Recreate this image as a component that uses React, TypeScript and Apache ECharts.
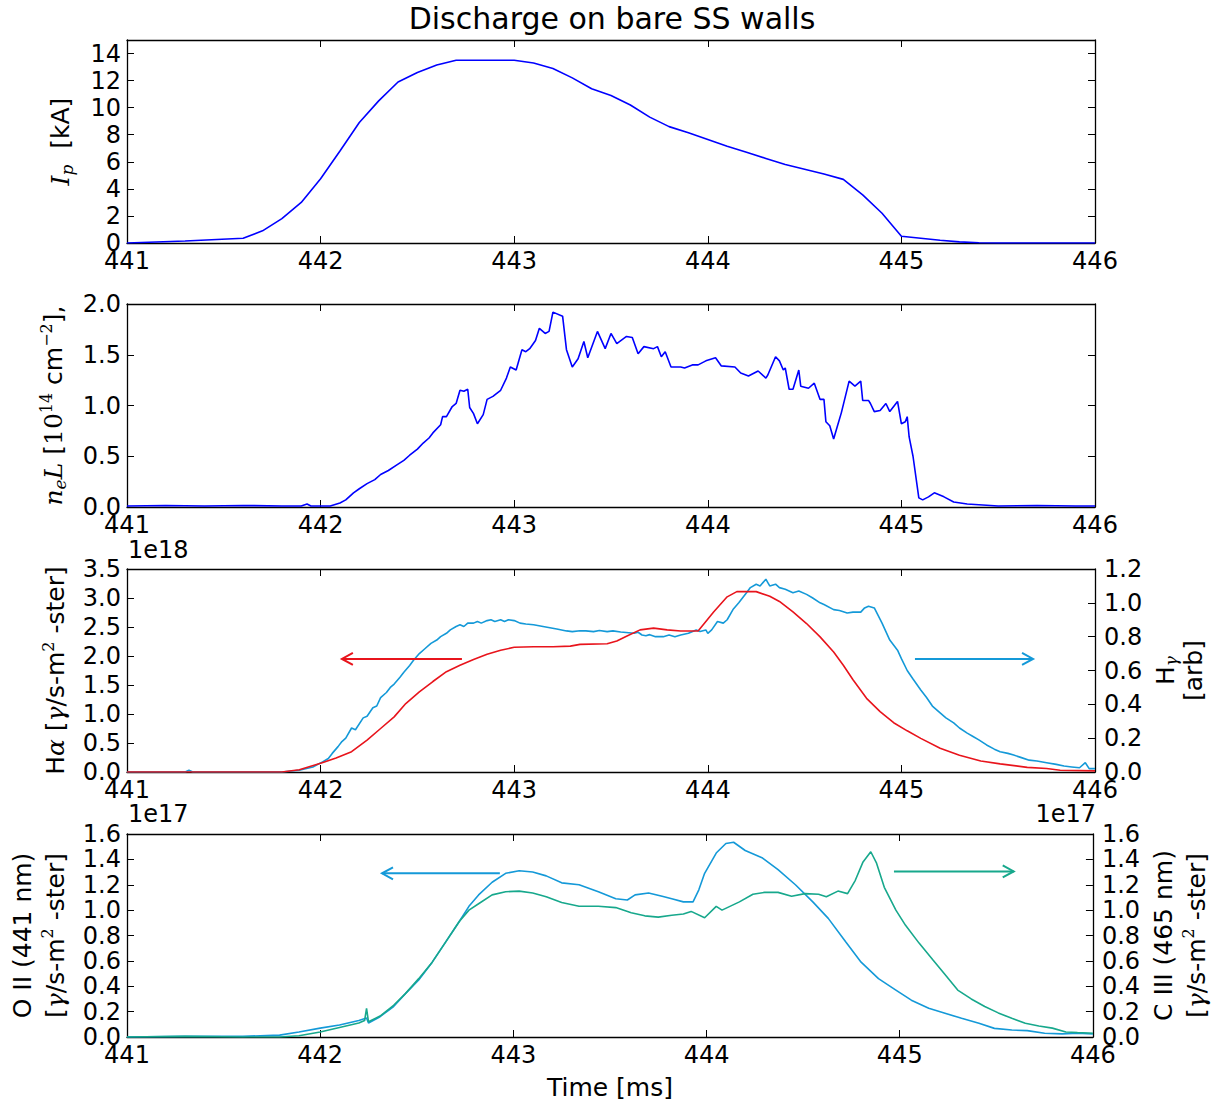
import React, { useEffect, useRef } from "react";
import * as echarts from "echarts";

// ---------- data (time in ms, values in plotted units) ----------
const xTicks = [441, 442, 443, 444, 445, 446];

const ipData: number[][] = [
  [441, 0], [441.3, 0.15], [441.6, 0.35], [441.7, 0.9], [441.8, 1.8], [441.9, 3.0], [442.0, 4.75],
  [442.1, 6.8], [442.2, 8.9], [442.3, 10.5], [442.4, 11.9], [442.5, 12.6], [442.6, 13.15], [442.7, 13.5],
  [443.0, 13.5], [443.1, 13.3], [443.2, 12.9], [443.3, 12.2], [443.4, 11.4], [443.5, 10.9], [443.6, 10.2],
  [443.7, 9.3], [443.8, 8.6], [443.9, 8.15], [444.0, 7.65], [444.1, 7.15], [444.2, 6.7], [444.3, 6.25],
  [444.4, 5.8], [444.5, 5.45], [444.6, 5.1], [444.7, 4.7], [444.8, 3.55], [444.9, 2.2], [445.0, 0.5],
  [445.1, 0.35], [445.2, 0.2], [445.3, 0.08], [445.4, 0.02], [445.5, 0], [446, 0],
];

const neLData: number[][] = [
  [441, 0.01], [441.2, 0.015], [441.4, 0.01], [441.6, 0.015], [441.8, 0.01], [441.9, 0.01], [441.93, 0.03],
  [441.95, 0.01], [442.05, 0.01], [442.1, 0.04], [442.13, 0.07], [442.17, 0.14], [442.2, 0.18], [442.24, 0.23],
  [442.28, 0.27], [442.31, 0.32], [442.35, 0.36], [442.39, 0.41], [442.43, 0.46], [442.46, 0.51], [442.5, 0.57],
  [442.53, 0.63], [442.56, 0.68], [442.58, 0.73], [442.62, 0.81], [442.63, 0.89], [442.65, 0.89], [442.68, 0.99],
  [442.7, 1.02], [442.72, 1.15], [442.74, 1.14], [442.76, 1.16], [442.77, 0.98], [442.79, 0.92], [442.81, 0.82],
  [442.84, 0.91], [442.86, 1.06], [442.89, 1.09], [442.93, 1.15], [442.96, 1.27], [442.98, 1.38], [443.01, 1.35],
  [443.04, 1.55], [443.06, 1.53], [443.08, 1.56], [443.11, 1.64], [443.13, 1.76], [443.16, 1.71], [443.18, 1.73],
  [443.2, 1.92], [443.25, 1.88], [443.27, 1.55], [443.3, 1.38], [443.33, 1.46], [443.36, 1.63], [443.38, 1.47],
  [443.43, 1.73], [443.47, 1.56], [443.5, 1.71], [443.53, 1.61], [443.58, 1.68], [443.61, 1.67], [443.64, 1.51],
  [443.67, 1.58], [443.72, 1.56], [443.74, 1.58], [443.76, 1.48], [443.78, 1.53], [443.81, 1.38], [443.86, 1.38],
  [443.88, 1.37], [443.92, 1.4], [443.95, 1.4], [443.99, 1.44], [444.04, 1.47], [444.07, 1.39], [444.14, 1.38],
  [444.17, 1.32], [444.21, 1.29], [444.26, 1.34], [444.3, 1.27], [444.31, 1.3], [444.35, 1.48], [444.37, 1.44],
  [444.39, 1.35], [444.4, 1.37], [444.42, 1.16], [444.44, 1.16], [444.47, 1.35], [444.48, 1.19], [444.52, 1.17],
  [444.55, 1.22], [444.58, 1.06], [444.6, 1.06], [444.61, 0.84], [444.63, 0.8], [444.65, 0.67], [444.67, 0.8],
  [444.69, 0.93], [444.73, 1.24], [444.76, 1.19], [444.79, 1.24], [444.8, 1.05], [444.83, 1.05], [444.84, 1.02],
  [444.86, 0.94], [444.89, 0.95], [444.92, 1.02], [444.94, 0.94], [444.98, 1.04], [445.0, 0.82], [445.02, 0.84],
  [445.03, 0.89], [445.04, 0.69], [445.06, 0.5], [445.09, 0.09], [445.11, 0.07], [445.14, 0.1], [445.17, 0.14],
  [445.22, 0.1], [445.27, 0.05], [445.34, 0.03], [445.5, 0.01], [445.7, 0.015], [445.9, 0.01], [446, 0.01],
];

// H-alpha, units of 1e18
const hAlphaData: number[][] = [
  [441, 0], [441.8, 0], [441.89, 0.04], [442.0, 0.15], [442.08, 0.24], [442.16, 0.35], [442.24, 0.55],
  [442.31, 0.75], [442.38, 0.95], [442.44, 1.18], [442.51, 1.38], [442.58, 1.56], [442.65, 1.73], [442.72, 1.84],
  [442.79, 1.94], [442.86, 2.03], [442.93, 2.1], [443.0, 2.15], [443.1, 2.16], [443.2, 2.16], [443.29, 2.17],
  [443.34, 2.2], [443.48, 2.21], [443.53, 2.26], [443.58, 2.34], [443.65, 2.45], [443.72, 2.48], [443.79, 2.45],
  [443.86, 2.43], [443.95, 2.43], [444.03, 2.76], [444.1, 3.02], [444.15, 3.11], [444.25, 3.11], [444.32, 3.03],
  [444.37, 2.94], [444.44, 2.76], [444.51, 2.56], [444.58, 2.33], [444.65, 2.07], [444.7, 1.84], [444.75, 1.59],
  [444.82, 1.27], [444.89, 1.04], [444.96, 0.85], [445.03, 0.71], [445.1, 0.58], [445.2, 0.41], [445.3, 0.29],
  [445.41, 0.19], [445.51, 0.14], [445.65, 0.08], [445.75, 0.06], [445.82, 0.03], [446, 0.02],
];

// H-gamma, arbitrary units
const hGammaData: number[][] = [
  [441, 0], [441.3, 0], [441.32, 0.01], [441.34, 0], [441.8, 0], [441.89, 0.01], [441.96, 0.03], [442.01, 0.06],
  [442.04, 0.08], [442.06, 0.11], [442.09, 0.15], [442.11, 0.18], [442.13, 0.2], [442.16, 0.26], [442.18, 0.25],
  [442.22, 0.32], [442.24, 0.33], [442.27, 0.38], [442.29, 0.39], [442.31, 0.44], [442.34, 0.47], [442.36, 0.5],
  [442.38, 0.52], [442.41, 0.56], [442.43, 0.59], [442.46, 0.63], [442.48, 0.66], [442.51, 0.7], [442.54, 0.73],
  [442.57, 0.76], [442.6, 0.78], [442.62, 0.8], [442.65, 0.82], [442.67, 0.84], [442.7, 0.86], [442.72, 0.87],
  [442.74, 0.86], [442.76, 0.88], [442.79, 0.88], [442.81, 0.89], [442.83, 0.88], [442.86, 0.895], [442.88, 0.9],
  [442.9, 0.89], [442.93, 0.9], [442.95, 0.89], [442.97, 0.9], [443.0, 0.895], [443.03, 0.88], [443.06, 0.875],
  [443.1, 0.87], [443.17, 0.856], [443.22, 0.845], [443.27, 0.834], [443.3, 0.83], [443.34, 0.835], [443.37, 0.834],
  [443.41, 0.83], [443.44, 0.836], [443.48, 0.83], [443.51, 0.834], [443.55, 0.828], [443.62, 0.82], [443.64, 0.826],
  [443.66, 0.81], [443.68, 0.805], [443.7, 0.812], [443.73, 0.8], [443.77, 0.8], [443.8, 0.81], [443.83, 0.8],
  [443.86, 0.81], [443.9, 0.82], [443.94, 0.84], [443.96, 0.83], [443.99, 0.84], [444.0, 0.82], [444.02, 0.84],
  [444.05, 0.89], [444.08, 0.88], [444.1, 0.9], [444.13, 0.96], [444.16, 1.0], [444.2, 1.06], [444.22, 1.09],
  [444.25, 1.11], [444.27, 1.1], [444.3, 1.14], [444.31, 1.12], [444.32, 1.1], [444.35, 1.11], [444.37, 1.09],
  [444.4, 1.08], [444.44, 1.06], [444.47, 1.07], [444.51, 1.05], [444.54, 1.03], [444.58, 1.0], [444.6, 0.99],
  [444.65, 0.96], [444.68, 0.955], [444.72, 0.94], [444.75, 0.945], [444.79, 0.945], [444.81, 0.97], [444.83, 0.98],
  [444.86, 0.97], [444.9, 0.88], [444.92, 0.83], [444.94, 0.78], [444.98, 0.72], [445.0, 0.67], [445.03, 0.6],
  [445.06, 0.55], [445.1, 0.485], [445.13, 0.44], [445.16, 0.39], [445.2, 0.35], [445.23, 0.32], [445.27, 0.29],
  [445.3, 0.26], [445.34, 0.23], [445.37, 0.21], [445.4, 0.19], [445.44, 0.16], [445.48, 0.135], [445.51, 0.12],
  [445.55, 0.11], [445.58, 0.1], [445.62, 0.085], [445.66, 0.07], [445.7, 0.065], [445.75, 0.055], [445.8, 0.045],
  [445.84, 0.035], [445.88, 0.03], [445.92, 0.025], [445.95, 0.055], [445.97, 0.02], [446, 0.02],
];

// O II (441 nm), units of 1e17
const oIIData: number[][] = [
  [441, 0], [441.3, 0.005], [441.6, 0.005], [441.79, 0.015], [441.89, 0.04], [442.0, 0.07], [442.1, 0.095],
  [442.2, 0.13], [442.24, 0.15], [442.25, 0.11], [442.31, 0.16], [442.38, 0.24], [442.44, 0.34], [442.51, 0.45],
  [442.58, 0.59], [442.65, 0.75], [442.72, 0.91], [442.77, 1.03], [442.82, 1.12], [442.89, 1.22], [442.96, 1.29],
  [443.03, 1.31], [443.1, 1.3], [443.17, 1.27], [443.25, 1.215], [443.34, 1.2], [443.44, 1.145], [443.53, 1.09],
  [443.59, 1.08], [443.63, 1.12], [443.7, 1.135], [443.77, 1.11], [443.82, 1.09], [443.88, 1.065], [443.93, 1.065],
  [443.96, 1.16], [443.99, 1.29], [444.05, 1.45], [444.1, 1.525], [444.14, 1.535], [444.2, 1.47], [444.29, 1.41],
  [444.37, 1.32], [444.46, 1.2], [444.55, 1.065], [444.63, 0.935], [444.72, 0.75], [444.8, 0.59], [444.89, 0.46],
  [444.98, 0.37], [445.06, 0.29], [445.15, 0.226], [445.23, 0.19], [445.32, 0.147], [445.41, 0.108], [445.49, 0.068],
  [445.58, 0.055], [445.66, 0.05], [445.75, 0.03], [445.84, 0.025], [445.92, 0.03], [446, 0.025],
];

// C III (465 nm), units of 1e17
const cIIIData: number[][] = [
  [441, 0], [441.3, 0.005], [441.6, 0], [441.79, 0], [441.89, 0.01], [442.0, 0.04], [442.1, 0.075], [442.2, 0.11],
  [442.23, 0.13], [442.24, 0.226], [442.25, 0.12], [442.31, 0.165], [442.38, 0.25], [442.44, 0.34], [442.51, 0.46],
  [442.58, 0.59], [442.65, 0.75], [442.72, 0.91], [442.77, 1.0], [442.82, 1.05], [442.89, 1.12], [442.96, 1.145],
  [443.03, 1.15], [443.1, 1.135], [443.17, 1.105], [443.25, 1.06], [443.34, 1.03], [443.44, 1.03], [443.53, 1.02],
  [443.61, 0.98], [443.68, 0.955], [443.75, 0.945], [443.82, 0.96], [443.88, 0.97], [443.92, 0.99], [443.99, 0.94],
  [444.05, 1.03], [444.08, 1.0], [444.17, 1.065], [444.24, 1.125], [444.3, 1.14], [444.37, 1.14], [444.44, 1.11],
  [444.51, 1.13], [444.58, 1.125], [444.62, 1.105], [444.68, 1.15], [444.73, 1.13], [444.77, 1.235], [444.81, 1.38],
  [444.85, 1.46], [444.88, 1.37], [444.92, 1.18], [444.98, 1.0], [445.03, 0.88], [445.1, 0.74], [445.17, 0.61],
  [445.23, 0.5], [445.3, 0.37], [445.37, 0.3], [445.44, 0.24], [445.51, 0.19], [445.58, 0.147], [445.65, 0.108],
  [445.72, 0.087], [445.79, 0.07], [445.86, 0.04], [445.92, 0.035], [446, 0.03],
];

// annotation arrows: [x from, x to, y] in data units of the given panel's left axis
const arrowRedHa = [442.73, 442.11, 1.95];
const arrowBlueHg = [445.07, 445.68, 1.95];
const arrowBlueOII = [442.93, 442.32, 1.29];
const arrowTealCIII = [444.97, 445.59, 1.305];

const titleText = "Discharge on bare SS walls";

// ---------- styles ----------
const BLUE = "#0000ff";
const RED = "#e8141c";
const LBLUE = "#1499d8";
const TEAL = "#17a88c";
const FONT = "DejaVu Sans";
const FS = 24;   // tick labels
const FN = 25;   // axis names

const L = 127;
const W = 968;
const H = 203;
const tops = [40, 304, 569, 834];

function App() {
  const ref = useRef<HTMLDivElement>(null);
  useEffect(() => {
    document.body.style.margin = "0";
    if (!ref.current) return;
    const chart = echarts.init(ref.current, undefined, { renderer: "svg" });

    const grids = tops.map((t) => ({ left: L, top: t, width: W, height: H, containLabel: false }));

    const xAxes: any[] = [];
    tops.forEach((_, g) => {
      xAxes.push({
        type: "value", gridIndex: g, min: xTicks[0], max: xTicks[xTicks.length - 1], interval: 1,
        position: "bottom",
        axisLine: { show: true, onZero: false, lineStyle: { color: "#000", width: 1.3 } },
        axisTick: { show: true, inside: true, length: 7, lineStyle: { color: "#000", width: 1 } },
        axisLabel: { show: true, margin: 6, fontFamily: FONT, fontSize: FS, color: "#000" },
        splitLine: { show: false },
        name: g === 3 ? "Time [ms]" : "",
        nameLocation: "middle", nameGap: 38,
        nameTextStyle: { fontFamily: FONT, fontSize: FN, color: "#000" },
      });
      xAxes.push({
        type: "value", gridIndex: g, min: 441, max: 446, interval: 1, position: "top",
        axisLine: { show: true, onZero: false, lineStyle: { color: "#000", width: 1.3 } },
        axisTick: { show: true, inside: true, length: 7, lineStyle: { color: "#000", width: 1 } },
        axisLabel: { show: false }, splitLine: { show: false },
      });
    });

    const labelStyle = { fontFamily: FONT, fontSize: FS, color: "#000" };
    const mkRich = (lh: number) => ({
      t: { fontFamily: FONT, fontSize: FN, color: "#000", lineHeight: lh, verticalAlign: "middle" },
      m: { fontFamily: "DejaVu Serif", fontStyle: "italic", fontSize: FN, color: "#000", lineHeight: lh, verticalAlign: "middle" },
      g: { fontFamily: "DejaVu Serif", fontStyle: "italic", fontSize: FN, color: "#000", lineHeight: lh, verticalAlign: "middle" },
      sub: { fontFamily: "DejaVu Serif", fontStyle: "italic", fontSize: 17, color: "#000", lineHeight: lh, verticalAlign: "bottom" },
      sup: { fontFamily: "DejaVu Serif", fontSize: 16, color: "#000", lineHeight: lh, verticalAlign: "top" },
      s: { fontFamily: "DejaVu Serif", fontSize: FN, color: "#000", lineHeight: lh, verticalAlign: "middle" },
    });

    const yAxis = (g: number, pos: string, min: number, max: number, interval: number, dec: number, labels: boolean, name = "", gap = 55, hideMax = false, lh = 30) => ({
      type: "value", gridIndex: g, min, max, interval, position: pos,
      axisLine: { show: true, onZero: false, lineStyle: { color: "#000", width: 1.3 } },
      axisTick: { show: true, inside: true, length: 7, lineStyle: { color: "#000", width: 1 } },
      axisLabel: {
        show: labels, margin: pos === "left" ? 6 : 9, ...labelStyle, showMaxLabel: !hideMax,
        formatter: (v: number) => v.toFixed(dec),
      },
      splitLine: { show: false },
      name, nameLocation: "middle", nameRotate: 90, nameGap: gap,
      nameTextStyle: { fontFamily: FONT, fontSize: FN, color: "#000", rich: mkRich(lh) },
    });

    const yAxes = [
      yAxis(0, "left", 0, 15, 2, 0, true, "{m|I}{sub|p}{t|  [kA]}", 52, true),
      yAxis(0, "right", 0, 15, 2, 0, false, "", 0, true),
      yAxis(1, "left", 0, 2, 0.5, 1, true, "{m|n}{sub|e}{m|L}{t| [}{s|10}{sup|14}{t| cm}{sup|−2}{t|],}", 59),
      yAxis(1, "right", 0, 2, 0.5, 1, false),
      yAxis(2, "left", 0, 3.5, 0.5, 1, true, "{t|H}{g|α}{t| [}{g|γ}{t|/s-m}{sup|2}{t| -ster]}", 57),
      yAxis(2, "right", 0, 1.2, 0.2, 1, true, "{t|H}{sub|γ}\n{t|[arb]}", 54, false, 28),
      yAxis(3, "left", 0, 1.6, 0.2, 1, true, "{t|O II (441 nm)}\n{t|[}{g|γ}{t|/s-m}{sup|2}{t| -ster]}", 55, false, 33),
      yAxis(3, "right", 0, 1.6, 0.2, 1, true, "{t|C III (465 nm)}\n{t|[}{g|γ}{t|/s-m}{sup|2}{t| -ster]}", 51, false, 33),
    ];

    const line = (data: number[][], xi: number, yi: number, color: string, width = 1.6) => ({
      type: "line", data, xAxisIndex: xi, yAxisIndex: yi, showSymbol: false, symbol: "none",
      lineStyle: { color, width }, itemStyle: { color }, z: 3,
    });

    const series = [
      line(ipData, 0, 0, BLUE),
      line(neLData, 2, 2, BLUE),
      line(hGammaData, 4, 5, LBLUE),
      line(hAlphaData, 4, 4, RED),
      line(oIIData, 6, 6, LBLUE),
      line(cIIIData, 6, 7, TEAL),
    ];

    const baseGraphics: any[] = [
      { type: "text", x: 612, y: 18, style: { text: titleText, fontFamily: FONT, fontSize: 30, fill: "#000", textAlign: "center", textVerticalAlign: "middle" } },
      { type: "text", x: 128, y: 550, style: { text: "1e18", fontFamily: FONT, fontSize: FS, fill: "#000", textAlign: "left", textVerticalAlign: "middle" } },
      { type: "text", x: 128, y: 814, style: { text: "1e17", fontFamily: FONT, fontSize: FS, fill: "#000", textAlign: "left", textVerticalAlign: "middle" } },
      { type: "text", x: 1096, y: 814, style: { text: "1e17", fontFamily: FONT, fontSize: FS, fill: "#000", textAlign: "right", textVerticalAlign: "middle" } },
    ];

    chart.setOption({
      animation: false,
      backgroundColor: "#fff",
      grid: grids,
      xAxis: xAxes,
      yAxis: yAxes,
      series,
      graphic: baseGraphics,
    });

    const arrowGraphic = (a: number[], xi: number, yi: number, color: string) => {
      const p0 = chart.convertToPixel({ xAxisIndex: xi, yAxisIndex: yi } as any, [a[0], a[2]]) as number[];
      const p1 = chart.convertToPixel({ xAxisIndex: xi, yAxisIndex: yi } as any, [a[1], a[2]]) as number[];
      const dir = p1[0] > p0[0] ? 1 : -1;
      return [
        { type: "line", shape: { x1: p0[0], y1: p0[1], x2: p1[0], y2: p1[1] }, style: { stroke: color, lineWidth: 2 }, z: 10 },
        {
          type: "polyline",
          shape: { points: [[p1[0] - dir * 11, p1[1] - 6], [p1[0], p1[1]], [p1[0] - dir * 11, p1[1] + 6]] },
          style: { stroke: color, lineWidth: 2, fill: "none" }, z: 10,
        },
      ];
    };

    chart.setOption({
      graphic: [
        ...baseGraphics,
        ...arrowGraphic(arrowRedHa, 4, 4, RED),
        ...arrowGraphic(arrowBlueHg, 4, 4, LBLUE),
        ...arrowGraphic(arrowBlueOII, 6, 6, LBLUE),
        ...arrowGraphic(arrowTealCIII, 6, 6, TEAL),
      ],
    });

    return () => chart.dispose();
  }, []);
  return <div ref={ref} style={{ width: 1217, height: 1103 }} />;
}

export default App;
